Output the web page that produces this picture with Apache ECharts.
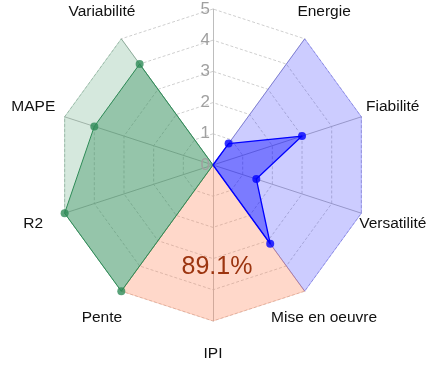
<!DOCTYPE html>
<html>
<head>
<meta charset="utf-8">
<script src="https://cdn.jsdelivr.net/npm/echarts@6/dist/echarts.min.js"></script>
<style>
  html, body { margin: 0; padding: 0; background: #fff; }
  #chart { width: 433px; height: 365px; }
</style>
</head>
<body>
<div id="chart"></div>
<script>
// Axes, listed counter-clockwise from the top axis (ECharts radar order)
const indicators = ['', 'Variabilité', 'MAPE', 'R2', 'Pente', 'IPI', 'Mise en oeuvre', 'Versatilité', 'Fiabilité', 'Energie'];
const tickLabels = ['0', '1', '2', '3', '4', '5'];
const axisMax = 5;

// Shaded zones behind the scores
const precisionZone = [0, 5, 5, 5, 5, 0, 0, 0, 0, 0];
const ipiZone       = [0, 0, 0, 0, 5, 5, 5, 0, 0, 0];
const practiceZone  = [0, 0, 0, 0, 0, 0, 5, 5, 5, 5];

// Scores
const precisionScores = [0, 4, 4, 5, 5, 0, 0, 0, 0, 0];
const practiceScores  = [0, 0, 0, 0, 0, 0, 3.12, 1.46, 3, 0.85];

const ipiText = '89.1%';

const CX = 213, CY = 165, R = 156;
const step = 360 / indicators.length;

// Marker points (non-zero scores) placed on the polar overlay: [radius, angle]
function markers(scores) {
  const pts = [];
  scores.forEach(function (v, i) { if (v > 0) pts.push([v, i * step]); });
  return pts;
}

const chart = echarts.init(document.getElementById('chart'), null, { renderer: 'canvas' });

const zone = function (values, color, opacity) {
  return {
    type: 'radar',
    z: 1,
    symbol: 'none',
    silent: true,
    lineStyle: { color: color, width: 1, opacity: 0.25 },
    areaStyle: { color: color, opacity: opacity },
    data: [{ value: values }]
  };
};

chart.setOption({
  animation: false,
  textStyle: { fontFamily: 'Liberation Sans, Arial, sans-serif' },
  radar: {
    center: [CX, CY],
    radius: R,
    startAngle: 90,
    splitNumber: 5,
    shape: 'polygon',
    nameGap: 33,
    axisName: {
      color: '#111',
      fontSize: 15.5,
      fontFamily: 'Liberation Sans, Arial, sans-serif',
      align: 'center',
      verticalAlign: 'middle'
    },
    indicator: indicators.map(function (n) { return { name: n, min: 0, max: axisMax }; }),
    axisLine: { lineStyle: { color: '#bdbdbd', width: 1 } },
    axisTick: { show: false },
    splitLine: { lineStyle: { color: '#cfcfcf', type: [3, 2], width: 1 } },
    splitArea: { show: false }
  },
  polar: { center: [CX, CY], radius: R },
  angleAxis: {
    type: 'value', min: 0, max: 360, startAngle: 90, clockwise: false, show: false
  },
  radiusAxis: {
    type: 'value', min: 0, max: axisMax, interval: 1, z: 5,
    axisLine: { show: false },
    axisTick: { show: false },
    splitLine: { show: false },
    axisLabel: {
      color: '#a0a0a0', fontSize: 17, margin: 3,
      formatter: function (v) { return tickLabels[v]; }
    }
  },
  graphic: [{
    type: 'text',
    x: 217, y: 267, z: 10,
    style: {
      text: ipiText,
      fill: '#9c3510',
      fontSize: 25,
      fontFamily: 'Liberation Sans, Arial, sans-serif',
      textAlign: 'center',
      textVerticalAlign: 'middle'
    }
  }],
  series: [
    zone(precisionZone, '#2e8b57', 0.2),
    zone(practiceZone, '#0000ff', 0.2),
    zone(ipiZone, '#ff7f50', 0.3),
    {
      type: 'radar', z: 2, symbol: 'none',
      lineStyle: { color: '#2e8b57', width: 1 },
      areaStyle: { color: '#2e8b57', opacity: 0.38 },
      data: [{ value: precisionScores }]
    },
    {
      type: 'radar', z: 2, symbol: 'none',
      lineStyle: { color: '#0000ff', width: 1.3 },
      areaStyle: { color: '#0000ff', opacity: 0.4 },
      data: [{ value: practiceScores }]
    },
    {
      type: 'scatter', coordinateSystem: 'polar', z: 4,
      symbolSize: 8, itemStyle: { color: '#2e8b57' },
      data: markers(precisionScores)
    },
    {
      type: 'scatter', coordinateSystem: 'polar', z: 4,
      symbolSize: 8, itemStyle: { color: '#0000ff' },
      data: markers(practiceScores)
    }
  ]
});
</script>
</body>
</html>
